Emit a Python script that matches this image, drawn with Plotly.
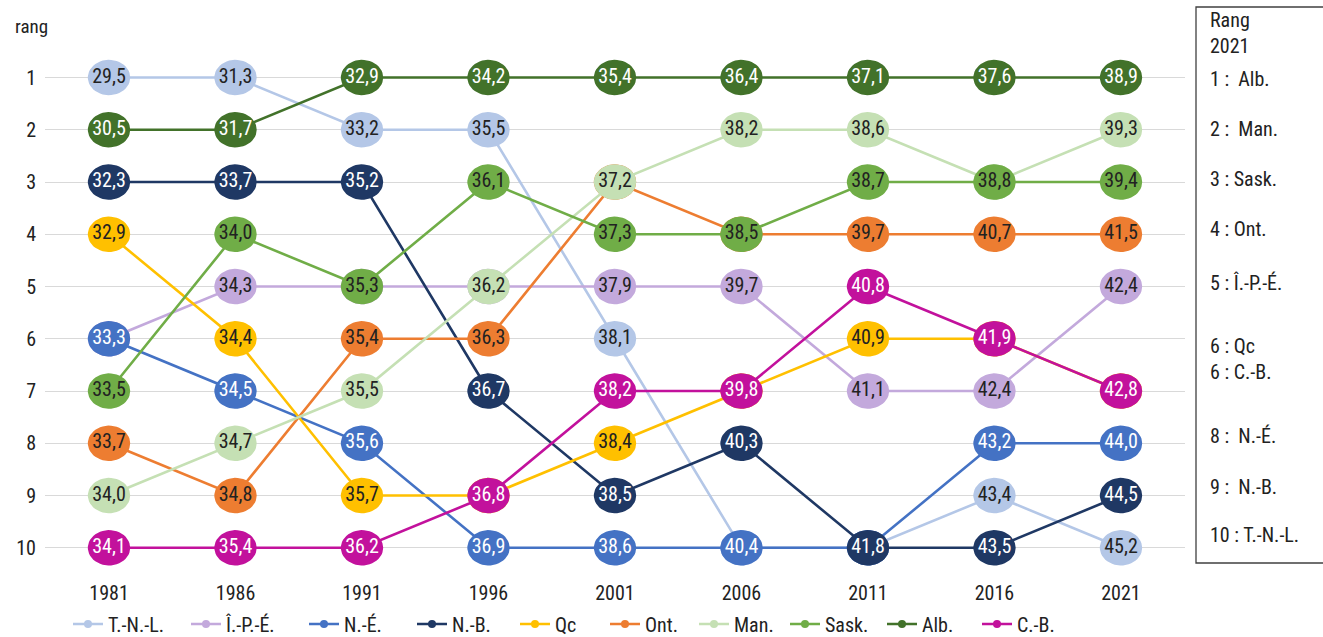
import numpy as np
import plotly.graph_objects as go

years = [1981, 1986, 1991, 1996, 2001, 2006, 2011, 2016, 2021]
series = ["T.-N.-L.", "Î.-P.-É.", "N.-É.", "N.-B.", "Qc", "Ont.", "Man.", "Sask.", "Alb.", "C.-B."]

rank_tnl = [1, 1, 2, 2, 6, 10, 10, 9, 10]
rank_ipe = [6, 5, 5, 5, 5, 5, 7, 7, 5]
rank_ne = [6, 7, 8, 10, 10, 10, 10, 8, 8]
rank_nb = [3, 3, 3, 7, 9, 8, 10, 10, 9]
rank_qc = [4, 6, 9, 9, 8, 7, 6, 6, 7]
rank_ont = [8, 9, 6, 6, 3, 4, 4, 4, 4]
rank_man = [9, 8, 7, 5, 3, 2, 2, 3, 2]
rank_sask = [7, 4, 5, 3, 4, 4, 3, 3, 3]
rank_alb = [2, 2, 1, 1, 1, 1, 1, 1, 1]
rank_cb = [10, 10, 10, 9, 7, 7, 5, 6, 7]

age_tnl = [29.5, 31.3, 33.2, 35.5, 38.1, 40.4, 41.8, 43.4, 45.2]
age_ipe = [33.3, 34.3, 35.3, 36.2, 37.9, 39.7, 41.1, 42.4, 42.4]
age_ne = [33.3, 34.5, 35.6, 36.9, 38.6, 40.4, 41.8, 43.2, 44.0]
age_nb = [32.3, 33.7, 35.2, 36.7, 38.5, 40.3, 41.8, 43.5, 44.5]
age_qc = [32.9, 34.4, 35.7, 36.8, 38.4, 39.8, 40.9, 41.9, 42.8]
age_ont = [33.7, 34.8, 35.4, 36.3, 37.2, 38.5, 39.7, 40.7, 41.5]
age_man = [34.0, 34.7, 35.5, 36.2, 37.2, 38.2, 38.6, 38.8, 39.3]
age_sask = [33.5, 34.0, 35.3, 36.1, 37.3, 38.5, 38.7, 38.8, 39.4]
age_alb = [30.5, 31.7, 32.9, 34.2, 35.4, 36.4, 37.1, 37.6, 38.9]
age_cb = [34.1, 35.4, 36.2, 36.8, 38.2, 39.8, 40.8, 41.9, 42.8]

panel_title = "Rang<br>2021"
panel_labels = ["1 :  Alb.", "2 :  Man.", "3 : Sask.", "4 : Ont.", "5 : Î.-P.-É.",
                "6 : Qc", "6 : C.-B.", "8 :  N.-É.", "9 :  N.-B.", "10 : T.-N.-L."]

# ---- styles / layout ----
ranks = [rank_tnl, rank_ipe, rank_ne, rank_nb, rank_qc, rank_ont, rank_man, rank_sask, rank_alb, rank_cb]
ages = [age_tnl, age_ipe, age_ne, age_nb, age_qc, age_ont, age_man, age_sask, age_alb, age_cb]
colors = ["#B4C7E7", "#C3A9DC", "#4472C4", "#1F3864", "#FFC000", "#ED7D31",
          "#C5E0B4", "#70AD47", "#42722A", "#C2119C"]
txtcol = ["#222222", "#222222", "#FFFFFF", "#FFFFFF", "#222222", "#222222",
          "#222222", "#222222", "#FFFFFF", "#FFFFFF"]
panel_py = [79, 129, 179, 229, 283, 346, 372, 436, 487, 535]
legend_px = [68, 186, 304, 412, 515, 605, 694, 785, 882, 977]

FONT = "Liberation Sans Narrow, Arial Narrow, Roboto Condensed, DejaVu Sans Condensed, sans-serif"
FS = 20
W, H = 1323, 637
ML, MR, MT, MB = 45, 138, 45, 58
PW = W - ML - MR
PH = H - MT - MB
XR = [1978.47, 2023.53]
YR = [10.597, 0.378]
ex = 21.2 / (PW / (XR[1] - XR[0]))   # ellipse half-width in years
ey = 17.7 / (PH / (YR[0] - YR[1]))   # ellipse half-height in ranks
t = np.linspace(0, 2 * np.pi, 48)

fig = go.Figure()
for i, (name, r, a, c, tc) in enumerate(zip(series, ranks, ages, colors, txtcol)):
    lg = "legend" if i == 0 else f"legend{i + 1}"
    fig.add_trace(go.Scatter(x=years, y=r, mode="lines+markers", name=name, legend=lg,
                             line=dict(color=c, width=2.6),
                             marker=dict(size=8, color=c), hoverinfo="skip"))
    ex_x, ex_y = [], []
    for xv, yv in zip(years, r):
        ex_x += list(xv + ex * np.cos(t)) + [None]
        ex_y += list(yv + ey * np.sin(t)) + [None]
    fig.add_trace(go.Scatter(x=ex_x, y=ex_y, mode="lines", fill="toself",
                             fillcolor=c, line=dict(width=0, color=c),
                             showlegend=False, hoverinfo="skip"))
    fig.add_trace(go.Scatter(x=years, y=r, mode="text",
                             text=[f"{v:.1f}".replace(".", ",") for v in a],
                             textposition="middle center",
                             textfont=dict(family=FONT, size=FS, color=tc),
                             showlegend=False, hoverinfo="skip"))

legends = {}
for i, px in enumerate(legend_px):
    key = "legend" if i == 0 else f"legend{i + 1}"
    legends[key] = dict(orientation="h", x=(px - ML) / PW, y=(H - MB - 624) / PH,
                        xanchor="left", yanchor="middle", itemwidth=30,
                        font=dict(family=FONT, size=FS, color="#222222"),
                        bgcolor="rgba(0,0,0,0)", borderwidth=0)

fig.add_annotation(text="rang", xref="paper", yref="paper", x=(13 - ML) / PW,
                   y=(H - MB - 26) / PH, xanchor="left", yanchor="middle", showarrow=False,
                   font=dict(family=FONT, size=FS - 1, color="#222222"))

fig.add_shape(type="rect", xref="paper", yref="paper",
              x0=(1196 - ML) / PW, x1=(1330 - ML) / PW,
              y0=(H - MB - 563) / PH, y1=(H - MB - 7) / PH,
              line=dict(color="#404040", width=1.3))
fig.add_annotation(text=panel_title, xref="paper", yref="paper",
                   x=(1208 - ML) / PW, y=(H - MB - 33) / PH,
                   xanchor="left", yanchor="middle", align="left", showarrow=False,
                   font=dict(family=FONT, size=FS, color="#222222"))
for lab, py in zip(panel_labels, panel_py):
    fig.add_annotation(text=lab, xref="paper", yref="paper",
                       x=(1208 - ML) / PW, y=(H - MB - py) / PH,
                       xanchor="left", yanchor="middle", showarrow=False,
                       font=dict(family=FONT, size=FS, color="#222222"))

fig.update_layout(
    width=W, height=H, margin=dict(l=ML, r=MR, t=MT, b=MB, autoexpand=False),
    paper_bgcolor="white", plot_bgcolor="white",
    font=dict(family=FONT, size=FS, color="#222222"),
    showlegend=True,
    xaxis=dict(range=XR, tickvals=years, showgrid=False, zeroline=False, showline=False,
               ticks="", tickfont=dict(family=FONT, size=FS, color="#222222"), fixedrange=True),
    yaxis=dict(range=YR, tickvals=list(range(1, 11)), showgrid=True, gridcolor="#D9D9D9",
               gridwidth=1.3, zeroline=False, showline=False, ticks="", ticklabelstandoff=8,
               tickfont=dict(family=FONT, size=FS, color="#222222"), fixedrange=True),
    **legends,
)

fig.write_html("out.html", config={"displayModeBar": False},
               post_script="document.body.style.margin='0';")
